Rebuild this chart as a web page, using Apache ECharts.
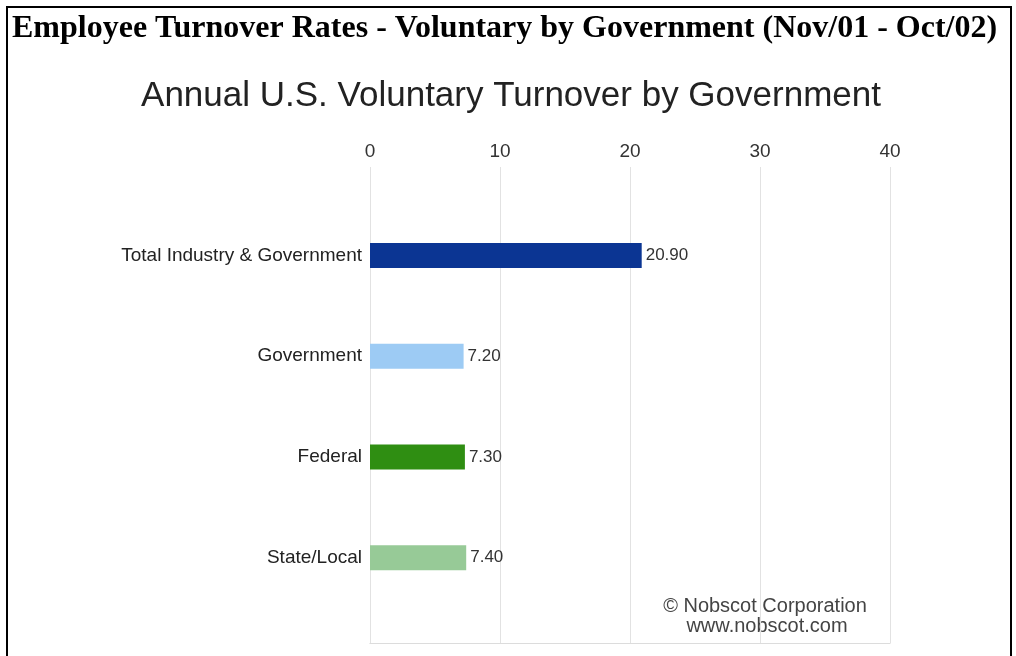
<!DOCTYPE html>
<html>
<head>
<meta charset="utf-8">
<script src="https://cdn.jsdelivr.net/npm/echarts@6/dist/echarts.min.js"></script>
<style>html,body{margin:0;padding:0;background:#fff;}#c{width:1016px;height:656px;}</style>
</head>
<body>
<div id="c"></div>
<script>
const categories = ["Total Industry & Government", "Government", "Federal", "State/Local"];
const values = [20.9, 7.2, 7.3, 7.4];
const barColors = ["#0b3593", "#9dcbf4", "#2f8e12", "#97ca97"];
const tickValues = [0, 10, 20, 30, 40];

const sans = '"Liberation Sans", Arial, sans-serif';
const chart = echarts.init(document.getElementById('c'));
chart.setOption({
  animation: false,
  backgroundColor: '#fff',
  grid: [
    { left: 370, right: 126, top: 167, bottom: 13 },
    { left: 370, right: 126, top: 205, height: 403 }
  ],
  xAxis: [
    { gridIndex: 0, type: 'value', position: 'top', min: tickValues[0], max: tickValues[tickValues.length-1], interval: 10,
      axisLine: { show: true, lineStyle: { color: '#ececec' } }, axisTick: { show: false },
      axisLabel: { fontFamily: sans, fontSize: 19, color: '#333', margin: 6 },
      splitLine: { show: true, lineStyle: { color: '#e2e2e2', width: 1 } } },
    { gridIndex: 0, type: 'value', position: 'bottom', min: 0, max: 40, interval: 10,
      axisLine: { show: true, lineStyle: { color: '#dcdcdc' } }, axisTick: { show: false },
      axisLabel: { show: false }, splitLine: { show: false } },
    { gridIndex: 1, type: 'value', min: 0, max: 40, show: false }
  ],
  yAxis: [
    { gridIndex: 0, type: 'value', show: false },
    { gridIndex: 1, type: 'category', data: categories, inverse: true,
      axisLine: { show: false }, axisTick: { show: false },
      axisLabel: { fontFamily: sans, fontSize: 19, color: '#222', margin: 8 } }
  ],
  series: [{
    type: 'bar', xAxisIndex: 2, yAxisIndex: 1, barWidth: 25,
    data: values.map((v, i) => ({ value: v, itemStyle: { color: barColors[i] } })),
    label: { show: true, position: 'right', distance: 4, fontFamily: sans, fontSize: 17, color: '#333',
      formatter: p => p.value.toFixed(2) }
  }],
  graphic: [
    { type: 'polyline', shape: { points: [[7, 660], [7, 7], [1011, 7], [1011, 660]] },
      style: { stroke: '#000', lineWidth: 2, fill: null } },
    { type: 'text', x: 12, y: 29,
      style: { text: 'Employee Turnover Rates - Voluntary by Government (Nov/01 - Oct/02)',
        font: 'bold 32px "Liberation Serif", "Times New Roman", serif', fill: '#000', verticalAlign: 'middle', align: 'left' } },
    { type: 'text', x: 511, y: 96,
      style: { text: 'Annual U.S. Voluntary Turnover by Government',
        font: '35px "Liberation Sans", Arial, sans-serif', fill: '#222', verticalAlign: 'middle', align: 'center' } },
    { type: 'text', x: 765, y: 606,
      style: { text: '© Nobscot Corporation', font: '20px "Liberation Sans", Arial, sans-serif', fill: '#444', verticalAlign: 'middle', align: 'center' } },
    { type: 'text', x: 767, y: 626,
      style: { text: 'www.nobscot.com', font: '20px "Liberation Sans", Arial, sans-serif', fill: '#444', verticalAlign: 'middle', align: 'center' } }
  ]
});
</script>
</body>
</html>
